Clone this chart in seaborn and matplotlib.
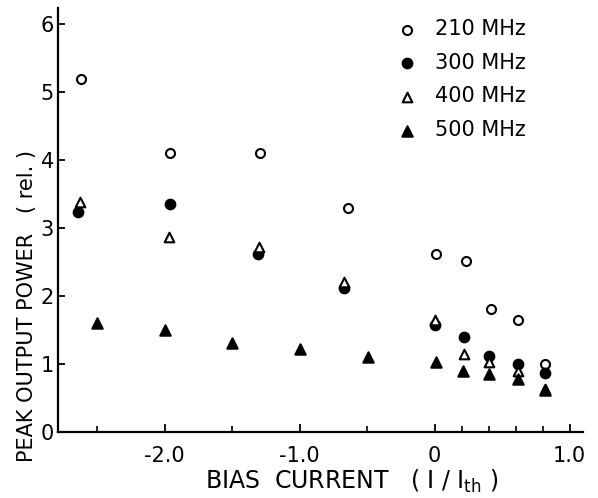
import pandas as pd
import matplotlib
matplotlib.use('Agg')
import matplotlib.pyplot as plt
import seaborn as sns
from matplotlib.ticker import MultipleLocator, FixedLocator

# values
x_210 = [-2.62, -1.96, -1.29, -0.64, 0.01, 0.23, 0.42, 0.62, 0.82]
y_210 = [5.2, 4.1, 4.1, 3.3, 2.62, 2.52, 1.81, 1.65, 1.0]

x_300 = [-2.64, -1.96, -1.31, -0.67, 0.0, 0.22, 0.40, 0.62, 0.82]
y_300 = [3.24, 3.35, 2.62, 2.12, 1.57, 1.40, 1.12, 1.0, 0.87]

x_400 = [-2.63, -1.97, -1.30, -0.67, 0.0, 0.22, 0.40, 0.62, 0.82]
y_400 = [3.38, 2.87, 2.72, 2.2, 1.65, 1.15, 1.03, 0.9, 0.63]

x_500 = [-2.5, -2.0, -1.5, -1.0, -0.49, 0.01, 0.21, 0.40, 0.62, 0.82]
y_500 = [1.6, 1.5, 1.3, 1.22, 1.1, 1.02, 0.9, 0.85, 0.78, 0.62]

labels = ['210 MHz', '300 MHz', '400 MHz', '500 MHz']
xticks = [-2.0, -1.0, 0, 1.0]
xticklabels = ['-2.0', '-1.0', '0', '1.0']
minor_xticks = [-2.5, -1.5, -0.5, 0.2, 0.4, 0.6, 0.8]

df = pd.concat([
    pd.DataFrame({'x': x_210, 'y': y_210, 'f': labels[0]}),
    pd.DataFrame({'x': x_300, 'y': y_300, 'f': labels[1]}),
    pd.DataFrame({'x': x_400, 'y': y_400, 'f': labels[2]}),
    pd.DataFrame({'x': x_500, 'y': y_500, 'f': labels[3]}),
])

sns.set_style('ticks')
plt.rcParams['font.family'] = ['DejaVu Sans']
# plain black text like the printed figure
for k in ['text.color', 'axes.labelcolor', 'xtick.color', 'ytick.color']:
    plt.rcParams[k] = 'black'

fig = plt.figure(figsize=(5.98, 4.98), dpi=100)
ax = fig.add_axes([0.097, 0.133, 0.878, 0.851])

# (marker, face colour, size)
styles = {
    '210 MHz': ('o', 'white', 42),
    '300 MHz': ('o', 'black', 48),
    '400 MHz': ('^', 'white', 48),
    '500 MHz': ('^', 'black', 56),
}
for lab in labels:
    m, fc, s = styles[lab]
    sns.scatterplot(data=df[df.f == lab], x='x', y='y', marker=m, s=s,
                    color=fc, edgecolor='black', linewidth=1.5, ax=ax,
                    label=lab, zorder=3)

ax.set_xlim(-2.79, 1.1)
ax.set_ylim(0, 6.24)
ax.xaxis.set_major_locator(FixedLocator(xticks))
ax.set_xticklabels(xticklabels)
ax.xaxis.set_minor_locator(FixedLocator(minor_xticks))
ax.yaxis.set_major_locator(MultipleLocator(1))
ax.tick_params(axis='both', direction='in', labelsize=15, width=1.3,
               color='black', labelcolor='black')
ax.tick_params(axis='x', which='major', length=6, pad=10)
ax.tick_params(axis='x', which='minor', length=4, direction='in', width=1.2)
ax.tick_params(axis='y', length=5, pad=3)
sns.despine(ax=ax)
for sp in ['left', 'bottom']:
    ax.spines[sp].set_linewidth(1.6)
    ax.spines[sp].set_color('black')

ax.set_xlabel('BIAS  CURRENT   ( I / I$_{\\mathrm{th}}$ )', fontsize=17, color='black')
ax.xaxis.set_label_coords(0.56, -0.085)
ax.set_ylabel('PEAK OUTPUT POWER   ( rel. )', fontsize=15, color='black')
ax.yaxis.set_label_coords(-0.04, 0.297)

leg = ax.legend(loc='upper left', bbox_to_anchor=(0.645, 0.974), frameon=False,
                fontsize=15, handlelength=1.0, handletextpad=0.85,
                labelspacing=0.66, borderaxespad=0, borderpad=0,
                labelcolor='black')

fig.savefig('out.png', dpi=100)
